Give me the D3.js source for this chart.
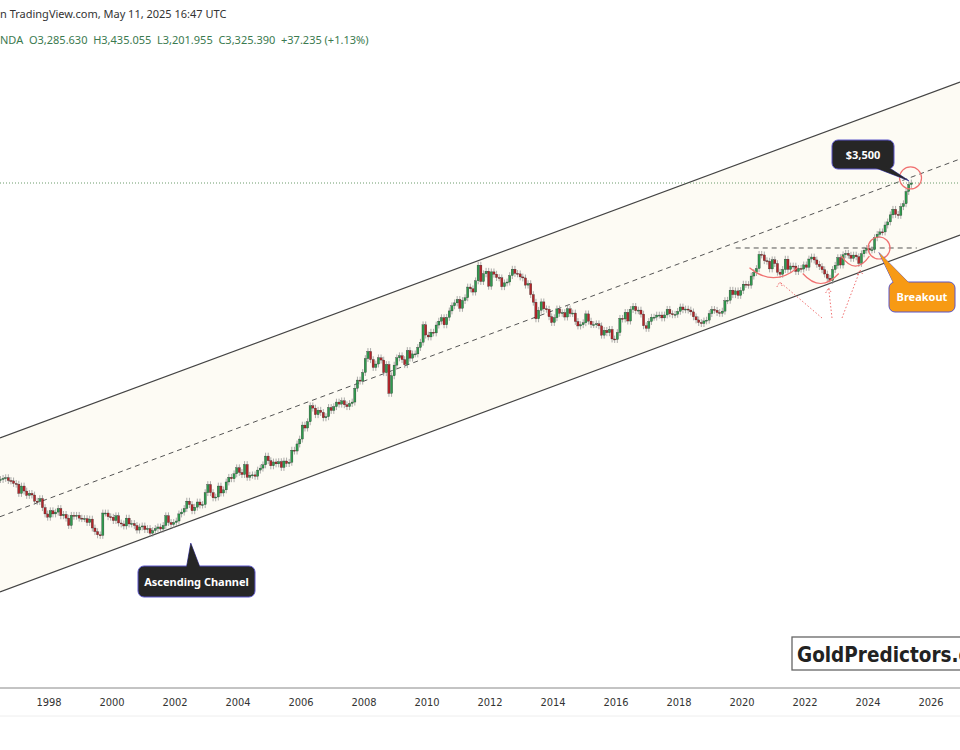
<!DOCTYPE html>
<html><head><meta charset="utf-8">
<script src="https://cdn.jsdelivr.net/npm/d3@7"></script>
<style>body{margin:0;background:#fff}svg{display:block}</style>
</head><body><svg id="c" width="960" height="750"></svg>
<script>
// Monthly closes of gold (USD), Jun 1996 .. May 2025
const startYear = 1996 + 5/12;
const closes = [
382,385,387,379,378,371,369,
345,364,351,340,345,341,326,325,332,311,297,290,
304,297,301,309,293,296,288,273,294,292,294,288,
287,287,279,286,268,261,255,254,299,299,291,290,
283,293,278,276,272,288,276,277,273,264,270,272,
265,267,258,263,267,270,266,273,293,279,275,279,
282,297,301,309,326,318,304,312,324,317,318,347,
368,347,334,336,364,346,354,375,388,384,398,416,
402,396,426,388,394,395,391,409,415,425,453,438,
422,434,428,435,417,437,429,433,473,470,495,513,
568,556,582,654,643,613,633,623,599,604,646,632,
650,672,662,678,659,650,665,672,743,789,783,834,
923,972,916,865,887,928,913,833,884,716,814,880,
928,942,916,883,979,926,955,955,1001,1040,1181,1096,
1081,1119,1113,1179,1213,1244,1181,1247,1307,1357,1386,1421,
1332,1410,1439,1556,1536,1500,1628,1825,1620,1714,1746,1565,
1738,1709,1668,1664,1560,1604,1614,1692,1772,1719,1713,1675,
1663,1578,1595,1472,1393,1234,1313,1396,1327,1323,1253,1201,
1244,1326,1284,1291,1250,1327,1282,1287,1210,1171,1182,1199,
1279,1213,1183,1183,1190,1172,1095,1134,1115,1142,1065,1061,
1116,1238,1232,1293,1214,1321,1351,1309,1315,1277,1173,1151,
1210,1248,1249,1268,1268,1242,1269,1322,1280,1271,1275,1303,
1345,1318,1325,1315,1298,1252,1224,1201,1192,1215,1222,1282,
1321,1313,1292,1284,1305,1409,1413,1520,1472,1513,1464,1517,
1589,1585,1577,1686,1730,1781,1975,1967,1886,1879,1776,1898,
1847,1734,1708,1769,1907,1770,1814,1813,1743,1783,1774,1829,
1797,1909,1937,1896,1837,1807,1766,1711,1660,1633,1768,1824,
1928,1827,1969,1990,1963,1919,1965,1940,1849,1983,2036,2063,
2040,2044,2230,2286,2327,2326,2447,2503,2635,2744,2643,2625,
2798,2858,3124,3289,3325];
const tickYears = [1998,2000,2002,2004,2006,2008,2010,2012,2014,2016,2018,2020,2022,2024,2026];
const channelUpper = [[1996.444,517],[2026.92,6950]];
const channelMid   = [[1996.444,291],[2026.92,3961]];
const channelLower = [[1996.444,168],[2026.92,2274]];
const resistance = [[2019.8,2069],[2025.55,2069]];
const lastPrice = 3325;
const header1 = "n TradingView.com, May 11, 2025 16:47 UTC";
const header2 = "NDA  O3,285.630  H3,435.055  L3,201.955  C3,325.390  +37.235 (+1.13%)";

const svg = d3.select("#c");
const x = d3.scaleLinear().domain([1998,2026]).range([49,931]);
const y = d3.scaleLog().domain([3325, 3325*Math.exp(1)]).range([183, 183-137]);

svg.append("rect").attr("width",960).attr("height",750).attr("fill","#fff");
const plot = svg.append("g");
const poly = [channelUpper[0],channelUpper[1],channelLower[1],channelLower[0]];
plot.append("path").attr("d", d3.line().x(d=>x(d[0])).y(d=>y(d[1]))(poly)+"Z").attr("fill","#fdfbf4");
const ln = d3.line().x(d=>x(d[0])).y(d=>y(d[1]));
plot.append("path").attr("d",ln(channelUpper)).attr("stroke","#444").attr("stroke-width",1.2).attr("fill","none");
plot.append("path").attr("d",ln(channelLower)).attr("stroke","#444").attr("stroke-width",1.2).attr("fill","none");
plot.append("path").attr("d",ln(channelMid)).attr("stroke","#555").attr("stroke-width",1).attr("stroke-dasharray","5,4").attr("fill","none");
plot.append("path").attr("d",ln(resistance)).attr("stroke","#555").attr("stroke-width",1).attr("stroke-dasharray","5,4").attr("fill","none");
plot.append("line").attr("x1",0).attr("x2",960).attr("y1",y(lastPrice)).attr("y2",y(lastPrice)).attr("stroke","#6a9a6a").attr("stroke-dasharray","1,2");

const candles = closes.map((c,i)=>{
  const o = i===0 ? c : closes[i-1];
  return {t:startYear+i/12+1/24, o, c, h:Math.max(o,c)*1.025, l:Math.min(o,c)*0.975};
});
const cg = plot.append("g");
cg.selectAll("line").data(candles).join("line")
  .attr("x1",d=>x(d.t)).attr("x2",d=>x(d.t)).attr("y1",d=>y(d.h)).attr("y2",d=>y(d.l))
  .attr("stroke","#888").attr("stroke-width",0.7);
cg.selectAll("rect").data(candles).join("rect")
  .attr("x",d=>x(d.t)-1.1).attr("width",2.2)
  .attr("y",d=>y(Math.max(d.o,d.c))).attr("height",d=>Math.max(1,Math.abs(y(d.o)-y(d.c))))
  .attr("fill",d=>d.c>=d.o?"#2f9a4e":"#b3262a").attr("stroke","#222").attr("stroke-width",0.3);

const red="#f07070";
[[x(2021.0),y(1690),24],[x(2022.5),y(1620),18],[x(2023.6),y(1840),14]].forEach(([cx,cy,r])=>{
  plot.append("path").attr("d",`M${cx-r},${cy-8} Q${cx},${cy+12} ${cx+r},${cy-8}`).attr("fill","none").attr("stroke",red).attr("stroke-width",1.2);
});
const ay=318;
[[822,x(2021.2),282],[832,x(2022.75),288],[842,x(2023.75),270]].forEach(([sx,tx,ty])=>{
  plot.append("line").attr("x1",sx).attr("y1",ay).attr("x2",tx).attr("y2",ty).attr("stroke",red).attr("stroke-dasharray","1.5,2").attr("stroke-width",1);
  plot.append("path").attr("d",`M${tx-3},${ty+5} L${tx},${ty} L${tx+3},${ty+5}`).attr("fill","none").attr("stroke",red).attr("stroke-dasharray","1.5,1.5");
});
plot.append("circle").attr("cx",x(2025.35)).attr("cy",y(3450)).attr("r",11).attr("fill","none").attr("stroke",red).attr("stroke-width",1.2);
plot.append("circle").attr("cx",x(2024.35)).attr("cy",y(2069)).attr("r",11).attr("fill","none").attr("stroke",red).attr("stroke-width",1.2);

function callout(bx,by,w,h,fill,stroke,label,tip,base1,base2){
  plot.append("line").attr("x1",base1[0]).attr("y1",base1[1]).attr("x2",tip[0]).attr("y2",tip[1]).attr("stroke",stroke);
  plot.append("line").attr("x1",base2[0]).attr("y1",base2[1]).attr("x2",tip[0]).attr("y2",tip[1]).attr("stroke",stroke);
  plot.append("rect").attr("x",bx).attr("y",by).attr("width",w).attr("height",h).attr("rx",6).attr("fill",fill).attr("stroke",stroke);
  plot.append("path").attr("d",`M${base1[0]},${base1[1]} L${tip[0]},${tip[1]} L${base2[0]},${base2[1]}Z`).attr("fill",fill);
  plot.append("text").attr("x",bx+w/2).attr("y",by+h/2+4).attr("text-anchor","middle").attr("fill","#fff")
    .attr("font-family","Noto Sans, sans-serif").attr("font-size",11).attr("font-weight","bold").text(label);
}
callout(832,140,62,29,"#262626","#5a55c8","$3,500",[x(2025.3),y(3380)],[868,165],[885,165]);
callout(889,282,66,30,"#f79a14","#5a55c8","Breakout",[x(2024.35),y(2000)],[895,286],[912,286]);
callout(138,566,117,31,"#262626","#5a55c8","Ascending Channel",[x(2002.5),y(240)],[186,570],[201,570]);

svg.append("line").attr("x1",0).attr("x2",960).attr("y1",688).attr("y2",688).attr("stroke","#888").attr("stroke-width",1);
svg.append("line").attr("x1",0).attr("x2",960).attr("y1",716).attr("y2",716).attr("stroke","#eee");
svg.append("g").selectAll("text").data(tickYears).join("text")
  .attr("x",d=>x(d)).attr("y",706).attr("text-anchor","middle").attr("fill","#333")
  .attr("font-family","DejaVu Sans Condensed, DejaVu Sans, sans-serif").attr("font-size",11).text(d=>d);

svg.append("rect").attr("x",792).attr("y",637).attr("width",190).attr("height",33).attr("fill","#fff").attr("stroke","#666").attr("stroke-width",1.3);
svg.append("text").attr("x",797).attr("y",662).attr("fill","#222").attr("font-family","DejaVu Sans Condensed, sans-serif")
  .attr("font-size",20.5).attr("font-weight","bold").text("GoldPredictors.com");

svg.append("text").attr("x",0).attr("y",18).attr("font-family","Noto Sans, sans-serif").attr("font-size",11).attr("fill","#333").text(header1);
svg.append("text").attr("x",0).attr("y",44).attr("font-family","Noto Sans, sans-serif").attr("font-size",11).attr("fill","#3b7a4f").style("white-space","pre").text(header2);
</script></body></html>
